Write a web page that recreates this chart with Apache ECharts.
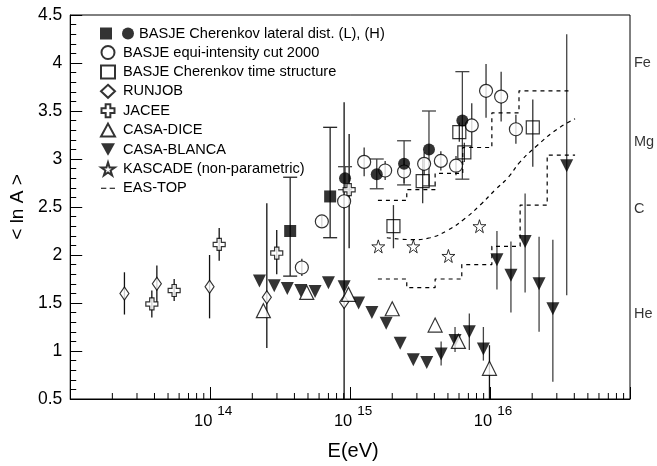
<!DOCTYPE html>
<html><head><meta charset="utf-8">
<script src="https://cdn.jsdelivr.net/npm/echarts@6/dist/echarts.min.js"></script>
<style>html,body{margin:0;padding:0;background:#fff}#c{width:657px;height:466px}</style>
</head><body><div id="c"></div>
<script>
// ---- data (E in eV, values = <ln A>) ----
const runjobE  = [2.44e13, 4.16e13, 9.9e13, 2.54e14, 9.06e14];
const runjobV  = [1.60, 1.70, 1.67, 1.56, 1.51];
const runjobLo = [1.38, 1.51, 1.34, 1.03, 0.50];
const runjobHi = [1.82, 1.89, 2.00, 2.54, 3.59];

const jaceeE  = [3.83e13, 5.53e13, 1.16e14, 2.99e14, 9.84e14];
const jaceeV  = [1.49, 1.63, 2.11, 2.02, 2.68];
const jaceeLo = [1.35, 1.52, 1.94, 1.80, 2.07];
const jaceeHi = [1.63, 1.75, 2.28, 2.26, 3.26];

const diceE  = [2.40e14, 4.90e14, 9.73e14, 2.0e15, 4.05e15, 5.94e15, 9.9e15];
const diceV  = [1.42, 1.61, 1.59, 1.44, 1.27, 1.10, 0.82];
const diceLo = [null, null, null, null, null, null, 0.50];
const diceHi = [null, null, null, null, null, null, 1.06];

const blancaE  = [2.25e14, 2.87e14, 3.56e14, 4.44e14, 5.62e14, 7.0e14, 9.06e14, 1.15e15, 1.43e15, 1.81e15, 2.28e15, 2.83e15, 3.53e15, 4.47e15, 5.62e15, 7.11e15, 8.96e15, 1.12e16, 1.41e16, 1.78e16, 2.24e16, 2.81e16, 3.53e16];
const blancaV  = [1.73, 1.68, 1.65, 1.63, 1.62, 1.71, 1.67, 1.50, 1.40, 1.29, 1.08, 0.91, 0.88, 0.97, 1.11, 1.20, 1.02, 1.95, 1.79, 2.14, 1.70, 1.44, 2.93];
const blancaLo = [null, null, null, null, null, null, null, null, null, null, null, null, null, 0.85, 0.99, 1.01, 0.90, 1.64, 1.40, 1.61, 1.20, 0.68, 1.58];
const blancaHi = [null, null, null, null, null, null, null, null, null, null, null, null, null, 1.10, 1.25, 1.39, 1.25, 2.25, 2.14, 2.64, 2.19, 2.16, 4.30];

const basjeLE  = [3.73e14, 7.2e14];
const basjeLV  = [2.25, 2.61];
const basjeLLo = [1.78, 2.18];
const basjeLHi = [2.81, 3.33];

const basjeHE  = [9.2e14, 1.55e15, 2.43e15, 3.66e15, 6.34e15];
const basjeHV  = [2.80, 2.84, 2.95, 3.10, 3.40];
const basjeHLo = [2.68, 2.69, 2.73, 2.72, 2.79];
const basjeHHi = [2.92, 3.00, 3.19, 3.50, 3.91];

const equiE  = [4.52e14, 6.28e14, 9.06e14, 1.26e15, 1.78e15, 2.43e15, 3.38e15, 4.45e15, 5.71e15, 7.40e15, 9.36e15, 1.2e16, 1.53e16];
const equiV  = [1.87, 2.35, 2.56, 2.97, 2.88, 2.87, 2.95, 2.98, 2.93, 3.35, 3.71, 3.65, 3.31];
const equiLo = [1.78, 2.29, 2.48, 2.82, 2.78, 2.75, 2.83, 2.88, 2.83, 3.12, 3.43, 3.39, 3.16];
const equiHi = [1.96, 2.41, 2.64, 3.12, 2.98, 2.99, 3.07, 3.08, 3.03, 3.58, 3.99, 3.91, 3.46];

const timeE  = [2.04e15, 3.30e15, 6.03e15, 6.55e15, 2.02e16];
const timeV  = [2.30, 2.77, 3.28, 3.07, 3.33];
const timeLo = [2.07, 2.54, 3.18, 2.97, 2.92];
const timeHi = [2.52, 3.00, 3.38, 3.17, 3.62];

const kascadeE = [1.59e15, 2.83e15, 5.04e15, 8.4e15];
const kascadeV = [2.09, 2.09, 1.99, 2.30];

const easUpperE = [1.58e15, 2.54e15, 4.05e15, 6.38e15, 1.03e16, 1.61e16, 3.83e16];
const easUpperV = [2.57, 2.68, 2.85, 3.12, 3.48, 3.71, 3.71];
const easLowerE = [1.58e15, 2.54e15, 4.05e15, 6.28e15, 1.03e16, 1.64e16, 2.56e16, 4.05e16];
const easLowerV = [1.75, 1.66, 1.75, 1.90, 2.09, 2.52, 3.04, 3.04];
const easCurveE = [1.83e15, 2.82e15, 3.72e15, 5.01e15, 6.61e15, 8.49e15, 1.09e16, 1.35e16, 1.64e16, 2.17e16, 3.01e16, 4.05e16];
const easCurveV = [2.18, 2.16, 2.18, 2.26, 2.38, 2.52, 2.68, 2.81, 2.97, 3.14, 3.31, 3.42];

const elementNames = ['Fe', 'Mg', 'C', 'He'];
const elementLnA   = [4.0, 3.18, 2.48, 1.39];

const yTicks = [0.5, 1, 1.5, 2, 2.5, 3, 3.5, 4, 4.5];
const xMinorTicks = [];
[13, 14, 15, 16].forEach(n => { for (let k = 2; k <= 9; k++) xMinorTicks.push(k * Math.pow(10, n)); });

// ---- helpers ----
const FONT = 'Liberation Sans, Arial, sans-serif';
const pts = (E, V) => E.map((e, i) => [e, V[i]]);
function errSeries(E, lo, hi, cap, color) {
  const data = [];
  E.forEach((e, i) => { if (lo[i] != null) data.push([e, lo[i], hi[i]]); });
  return {
    type: 'custom', silent: true, z: 1, data: data,
    encode: { x: 0, y: [1, 2] },
    renderItem: function (params, api) {
      const p1 = api.coord([api.value(0), api.value(1)]);
      const p2 = api.coord([api.value(0), api.value(2)]);
      const st = { stroke: color, lineWidth: 1.3 };
      const ch = [{ type: 'line', shape: { x1: p1[0], y1: p1[1], x2: p2[0], y2: p2[1] }, style: st }];
      if (cap) {
        ch.push({ type: 'line', shape: { x1: p1[0] - cap, y1: p1[1], x2: p1[0] + cap, y2: p1[1] }, style: st });
        ch.push({ type: 'line', shape: { x1: p2[0] - cap, y1: p2[1], x2: p2[0] + cap, y2: p2[1] }, style: st });
      }
      return { type: 'group', children: ch };
    }
  };
}
const openStyle = { color: '#fff', borderColor: '#000', borderWidth: 1.2 };
const filledStyle = { color: '#000' };
const crossPath = 'path://M32,0 H68 V32 H100 V68 H68 V100 H32 V68 H0 V32 H32 Z';
const starPath = 'path://M50,0 L61,35 L98,35 L68,57 L79,91 L50,70 L21,91 L32,57 L2,35 L39,35 Z';
const downTriPath = 'path://M0,0 L100,0 L50,90 Z';
const dashIconPath = 'path://M0,46 H38 V54 H0 Z M62,46 H100 V54 H62 Z';

const N_L = 'BASJE (L)';
const N_H = 'BASJE Cherenkov lateral dist. (L), (H)';
const N_EQ = 'BASJE equi-intensity cut 2000';
const N_TS = 'BASJE Cherenkov time structure';
const N_RJ = 'RUNJOB';
const N_JA = 'JACEE';
const N_CD = 'CASA-DICE';
const N_CB = 'CASA-BLANCA';
const N_KA = 'KASCADE (non-parametric)';
const N_ET = 'EAS-TOP';

const easLine = { color: '#000', width: 1.2, type: [4, 4] };
const legendText = { fontSize: 14.6, lineHeight: 14, color: '#000', fontFamily: FONT };

const option = {
  animation: false,
  textStyle: { fontFamily: FONT },
  grid: { left: 70, right: 27, top: 15, bottom: 63, show: true, borderColor: '#000', borderWidth: 1, backgroundColor: 'transparent' },
  xAxis: {
    type: 'log', logBase: 10, min: 1e13, max: 1e17,
    name: 'E(eV)', nameLocation: 'middle', nameGap: 42,
    nameTextStyle: { fontSize: 20, color: '#000', fontFamily: FONT, padding: [0, 0, 0, 6] },
    axisLine: { lineStyle: { color: '#000', width: 1 } },
    axisTick: { inside: true, length: 12, lineStyle: { color: '#000' } },
    splitLine: { show: false },
    axisLabel: {
      margin: 5, color: '#000', fontFamily: FONT,
      formatter: function (v) {
        const n = Math.round(Math.log10(v));
        if (n <= 13 || n >= 17) return '';
        return '{a|10}{b|' + n + '}';
      },
      rich: {
        a: { fontSize: 16.5, lineHeight: 26, verticalAlign: 'bottom', color: '#000', fontFamily: FONT, padding: [0, 5, 0, 6] },
        b: { fontSize: 13.5, lineHeight: 26, verticalAlign: 'top', color: '#000', fontFamily: FONT }
      }
    }
  },
  yAxis: {
    type: 'value', min: yTicks[0], max: yTicks[yTicks.length - 1], interval: 0.5,
    name: '< ln A >', nameLocation: 'middle', nameGap: 41,
    nameTextStyle: { fontSize: 19, color: '#000', fontFamily: FONT },
    axisLine: { show: true, lineStyle: { color: '#000', width: 1 } },
    axisTick: { show: true, inside: true, length: 12, lineStyle: { color: '#000' } },
    minorTick: { show: true, splitNumber: 5, length: 6, lineStyle: { color: '#000' } },
    splitLine: { show: false },
    axisLabel: { fontSize: 17.5, color: '#000', margin: 8, fontFamily: FONT }
  },
  legend: [
    {
      left: 100, top: 26, padding: 0, orient: 'horizontal', itemGap: 5,
      itemWidth: 12, itemHeight: 12, selectedMode: false,
      data: [N_L, N_H],
      formatter: function (name) { return name === N_L ? '' : name; },
      textStyle: legendText
    },
    {
      left: 100, top: 45, padding: 0, orient: 'vertical', itemGap: 4.4,
      itemWidth: 14, itemHeight: 13, selectedMode: false,
      data: [N_EQ, N_TS, N_RJ, N_JA, N_CD,
        { name: N_CB, icon: downTriPath },
        N_KA,
        { name: N_ET, icon: dashIconPath, itemStyle: { color: '#000', borderWidth: 0 } }],
      textStyle: Object.assign({}, legendText, { padding: [0, 0, 0, 3] })
    }
  ],
  series: [
    // EAS-TOP dashed lines
    { name: N_ET, type: 'line', step: 'end', symbol: 'none', data: pts(easUpperE, easUpperV), lineStyle: easLine, itemStyle: { color: '#000' }, z: 1 },
    { name: N_ET, type: 'line', step: 'end', symbol: 'none', data: pts(easLowerE, easLowerV), lineStyle: easLine, itemStyle: { color: '#000' }, z: 1 },
    { name: N_ET, type: 'line', symbol: 'none', smooth: true, data: pts(easCurveE, easCurveV), lineStyle: easLine, itemStyle: { color: '#000' }, z: 1 },
    // error bars
    errSeries(runjobE, runjobLo, runjobHi, 0, '#111'),
    errSeries(jaceeE, jaceeLo, jaceeHi, 0, '#111'),
    errSeries(diceE, diceLo, diceHi, 0, '#111'),
    errSeries(blancaE, blancaLo, blancaHi, 0, '#444'),
    errSeries(basjeLE, basjeLLo, basjeLHi, 7, '#222'),
    errSeries(basjeHE, basjeHLo, basjeHHi, 7, '#444'),
    errSeries(equiE, equiLo, equiHi, 0, '#333'),
    errSeries(timeE, timeLo, timeHi, 0, '#333'),
    // markers
    { name: N_RJ, type: 'scatter', symbol: 'diamond', symbolSize: [9, 13], data: pts(runjobE, runjobV), itemStyle: openStyle, z: 3 },
    { name: N_JA, type: 'scatter', symbol: crossPath, symbolSize: 12, data: pts(jaceeE, jaceeV), itemStyle: openStyle, z: 3 },
    { name: N_CB, type: 'scatter', symbol: downTriPath, symbolSize: 13, data: pts(blancaE, blancaV), itemStyle: filledStyle, z: 3 },
    { name: N_CD, type: 'scatter', symbol: 'triangle', symbolSize: 14, data: pts(diceE, diceV), itemStyle: openStyle, z: 4 },
    { name: N_EQ, type: 'scatter', symbol: 'circle', symbolSize: 13, data: pts(equiE, equiV), itemStyle: openStyle, z: 3 },
    { name: N_TS, type: 'scatter', symbol: 'rect', symbolSize: 13, data: pts(timeE, timeV), itemStyle: { color: 'rgba(255,255,255,0)', borderColor: '#000', borderWidth: 1.2 }, z: 3 },
    { name: N_L, type: 'scatter', symbol: 'rect', symbolSize: 12, data: pts(basjeLE, basjeLV), itemStyle: filledStyle, z: 4 },
    { name: N_H, type: 'scatter', symbol: 'circle', symbolSize: 12, data: pts(basjeHE, basjeHV), itemStyle: filledStyle, z: 4 },
    { name: N_KA, type: 'scatter', symbol: starPath, symbolSize: 13, data: pts(kascadeE, kascadeV), itemStyle: { color: '#fff', borderColor: '#000', borderWidth: 1 }, z: 3 },
    // element labels on right
    {
      type: 'scatter', silent: true, symbolSize: 0, clip: false,
      data: elementNames.map((n, i) => ({ value: [1e17, elementLnA[i]], name: n })),
      label: { show: true, position: 'right', distance: 4, formatter: '{b}', fontSize: 14.5, color: '#000', fontFamily: FONT }
    },
    // x minor ticks
    {
      type: 'custom', silent: true, z: 1, clip: false,
      data: xMinorTicks.map(v => [v, yTicks[0]]),
      encode: { x: 0, y: 1 },
      renderItem: function (params, api) {
        const p = api.coord([api.value(0), api.value(1)]);
        return { type: 'line', shape: { x1: p[0], y1: p[1], x2: p[0], y2: p[1] - 6 }, style: { stroke: '#000', lineWidth: 1 } };
      }
    }
  ]
};
const chart = echarts.init(document.getElementById('c'), null, { renderer: 'canvas' });
chart.setOption(option);
</script></body></html>
